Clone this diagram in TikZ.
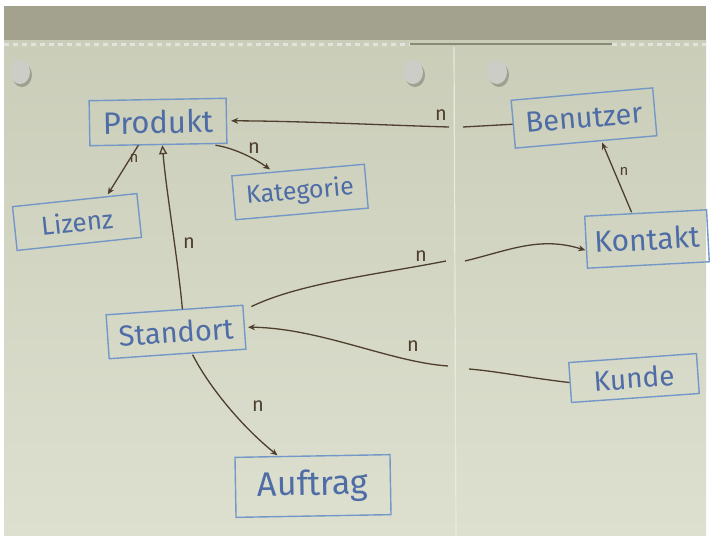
\documentclass[tikz,border=0pt]{standalone}
\usepackage{fontspec}
\setmainfont{Fira Sans}
\usetikzlibrary{arrows.meta}
\definecolor{board}{RGB}{221,224,207}
\definecolor{boardtop}{RGB}{202,205,184}
\definecolor{framecol}{RGB}{163,162,142}
\definecolor{ink}{RGB}{78,62,45}
\definecolor{bluetext}{RGB}{78,108,165}
\definecolor{bluebox}{RGB}{115,152,200}
\definecolor{magnet}{RGB}{205,205,200}
\definecolor{magshadow}{RGB}{160,160,145}
\definecolor{seam}{RGB}{232,234,220}
\tikzset{
  entity/.style={draw=bluebox, line width=1.4pt, text=bluetext, inner sep=0pt},
  rel/.style={draw=ink, line width=1.3pt},
  arr/.style={rel, -{Stealth[length=7pt,width=6pt]}},
  inh/.style={rel, -{Triangle[open,length=9pt,width=8pt]}},
  card/.style={text=ink, inner sep=0pt, font=\fontsize{20}{20}\selectfont},
  smallcard/.style={text=ink, inner sep=0pt, font=\fontsize{15}{15}\selectfont},
}
\begin{document}
\begin{tikzpicture}[x=1pt,y=-1pt]
\useasboundingbox (0,0) rectangle (710,539);
\fill[white] (0,0) rectangle (710,539);
% board
\shade[top color=boardtop, bottom color=board] (4,40) rectangle (706,535);
\fill[framecol] (4,6) rectangle (706,40);
\draw[white!70!framecol, line width=3pt, dash pattern=on 5pt off 4pt] (4,44) -- (410,44);
\draw[white!70!framecol, line width=3pt, dash pattern=on 5pt off 4pt] (612,44) -- (706,44);
\draw[framecol!85!black, line width=1.2pt] (410,44) -- (612,44);
\draw[seam, line width=1.2pt] (454,47) -- (456,535);
% magnets
\foreach \mx in {20,413,497} {
  \fill[magshadow] (\mx+2,75) ellipse (10 and 12);
  \fill[magnet] (\mx,72) ellipse (10 and 12);
}
% entities
\node[entity, minimum width=137, minimum height=45, rotate=1, font=\fontsize{31}{31}\selectfont] (produkt) at (158,122) {Produkt};
\node[entity, minimum width=125, minimum height=44, rotate=6, font=\fontsize{26}{26}\selectfont] (lizenz) at (77,222) {Lizenz};
\node[entity, minimum width=133, minimum height=44, rotate=5, font=\fontsize{25}{25}\selectfont] (kategorie) at (300,192) {Kategorie};
\node[entity, minimum width=142, minimum height=48, rotate=5, font=\fontsize{29}{29}\selectfont] (benutzer) at (584,118) {Benutzer};
\node[entity, minimum width=122, minimum height=52, rotate=3, font=\fontsize{30}{30}\selectfont] (kontakt) at (647,239) {Kontakt};
\node[entity, minimum width=137, minimum height=44, rotate=4, font=\fontsize{29}{29}\selectfont] (standort) at (176,332) {Standort};
\node[entity, minimum width=128, minimum height=40, rotate=4, font=\fontsize{28}{28}\selectfont] (kunde) at (634,378) {Kunde};
\node[entity, minimum width=155, minimum height=60, rotate=1, font=\fontsize{34}{34}\selectfont] (auftrag) at (313,486) {Auftrag};
% gap coordinates at the board seam
\coordinate (g1a) at (463,127);
\coordinate (g1b) at (449,127);
\coordinate (g2a) at (446,261);
\coordinate (g2b) at (465,261);
\coordinate (g3a) at (469,369);
\coordinate (g3b) at (448,366);
% Benutzer -> Produkt
\draw[rel] (benutzer.west) -- (g1a);
\draw[arr] (g1b) .. controls (380,125) and (300,121) .. ([xshift=4]produkt.east);
\node[card] (n1) at (441,115) {n};
% Produkt -> Lizenz
\draw[arr, shorten >=6pt] ([xshift=-20]produkt.south) -- ([xshift=30]lizenz.north);
\node[smallcard] (n2) at (134,158) {n};
% Produkt -> Kategorie
\draw[arr] ([xshift=57]produkt.south) .. controls (234,148) and (254,158) .. ([xshift=-28]kategorie.north);
\node[card] (n3) at (254,148) {n};
% Standort -> Produkt (inheritance)
\draw[inh] ([xshift=8]standort.north) .. controls (178,260) and (166,190) .. ([xshift=4]produkt.south);
\node[card] (n4) at (189,243) {n};
% Standort -> Kontakt
\draw[rel] ([shift={(8,2)}]standort.north east) .. controls (300,283) and (380,274) .. (g2a);
\draw[arr] (g2b) .. controls (510,250) and (540,236) .. ([yshift=-8]kontakt.west);
\node[card] (n5) at (421,256) {n};
% Kunde -> Standort
\draw[rel] (kunde.west) .. controls (530,378) and (495,371) .. (g3a);
\draw[arr] (g3b) .. controls (390,362) and (320,328) .. ([xshift=3]standort.east);
\node[card] (n6) at (413,346) {n};
% Standort -> Auftrag
\draw[arr] ([xshift=15]standort.south) .. controls (208,385) and (240,425) .. ([xshift=-35]auftrag.north);
\node[card] (n7) at (258,406) {n};
% Kontakt -> Benutzer
\draw[arr] ([xshift=-14]kontakt.north) -- ([xshift=16]benutzer.south);
\node[smallcard] (n8) at (624,171) {n};
\end{tikzpicture}
\end{document}
